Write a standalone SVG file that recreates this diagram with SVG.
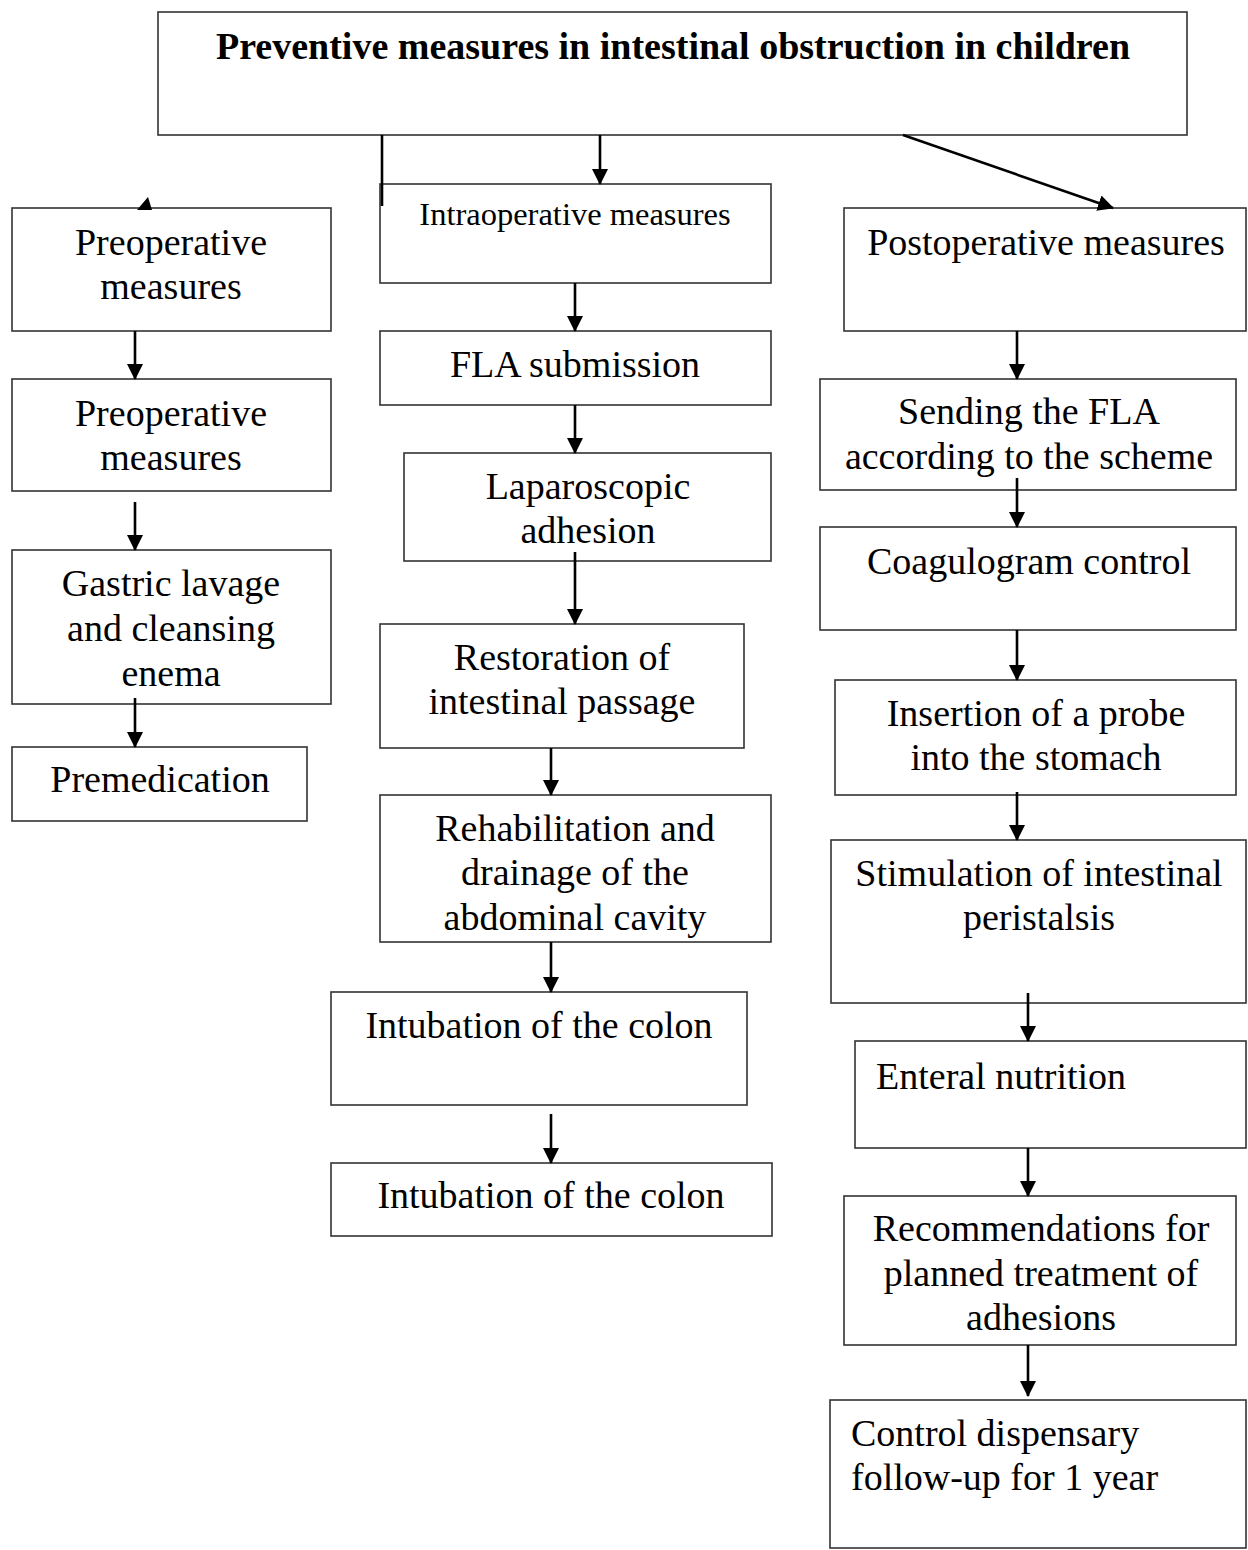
<svg xmlns="http://www.w3.org/2000/svg" width="1248" height="1550" viewBox="0 0 1248 1550">
<style>
.box{fill:#fff;stroke:#333;stroke-width:1.6}
.t{font-family:"Liberation Serif","Times New Roman",serif;font-size:38px;fill:#000;text-anchor:middle}
.l{text-anchor:start}
.title{font-family:"Liberation Serif","Times New Roman",serif;font-size:38px;font-weight:bold;fill:#000;text-anchor:middle}
.small{font-size:32.5px}
.c{stroke:#000;stroke-width:2.6;fill:none}
</style>
<defs>
<marker id="ah" markerUnits="userSpaceOnUse" markerWidth="16" markerHeight="18" refX="15" refY="8" orient="auto">
<path d="M0,0 L16,8 L0,16 Z" fill="#000"/>
</marker>
</defs>
<rect width="1248" height="1550" fill="#fff"/>
<g id="title"><rect class="box" x="158" y="12" width="1029" height="123"/><text class="title" x="673" y="59">Preventive measures in intestinal obstruction in children</text></g>
<g id="preop1"><rect class="box" x="12" y="208" width="319" height="123"/><text class="t" x="171" y="255">Preoperative</text><text class="t" x="171" y="299">measures</text></g>
<g id="preop2"><rect class="box" x="12" y="379" width="319" height="112"/><text class="t" x="171" y="426">Preoperative</text><text class="t" x="171" y="470">measures</text></g>
<g id="gastric"><rect class="box" x="12" y="550" width="319" height="154"/><text class="t" x="171" y="596">Gastric lavage</text><text class="t" x="171" y="641">and cleansing</text><text class="t" x="171" y="686">enema</text></g>
<g id="premed"><rect class="box" x="12" y="747" width="295" height="74"/><text class="t" x="160" y="792">Premedication</text></g>
<g id="intraop"><rect class="box" x="380" y="184" width="391" height="99"/><text class="t small" x="575" y="225">Intraoperative measures</text></g>
<g id="fla"><rect class="box" x="380" y="331" width="391" height="74"/><text class="t" x="575" y="377">FLA submission</text></g>
<g id="lapa"><rect class="box" x="404" y="453" width="367" height="108"/><text class="t" x="588" y="499">Laparoscopic</text><text class="t" x="588" y="543">adhesion</text></g>
<g id="restore"><rect class="box" x="380" y="624" width="364" height="124"/><text class="t" x="562" y="670">Restoration of</text><text class="t" x="562" y="714">intestinal passage</text></g>
<g id="rehab"><rect class="box" x="380" y="795" width="391" height="147"/><text class="t" x="575" y="841">Rehabilitation and</text><text class="t" x="575" y="885">drainage of the</text><text class="t" x="575" y="930">abdominal cavity</text></g>
<g id="intub1"><rect class="box" x="331" y="992" width="416" height="113"/><text class="t" x="539" y="1038">Intubation of the colon</text></g>
<g id="intub2"><rect class="box" x="331" y="1163" width="441" height="73"/><text class="t" x="551" y="1208">Intubation of the colon</text></g>
<g id="postop"><rect class="box" x="844" y="208" width="402" height="123"/><text class="t" x="1046" y="255">Postoperative measures</text></g>
<g id="sending"><rect class="box" x="820" y="379" width="416" height="111"/><text class="t" x="1029" y="424">Sending the FLA</text><text class="t" x="1029" y="469">according to the scheme</text></g>
<g id="coag"><rect class="box" x="820" y="527" width="416" height="103"/><text class="t" x="1029" y="574">Coagulogram control</text></g>
<g id="probe"><rect class="box" x="835" y="680" width="401" height="115"/><text class="t" x="1036" y="726">Insertion of a probe</text><text class="t" x="1036" y="770">into the stomach</text></g>
<g id="stim"><rect class="box" x="831" y="840" width="415" height="163"/><text class="t" x="1039" y="886">Stimulation of intestinal</text><text class="t" x="1039" y="930">peristalsis</text></g>
<g id="enteral"><rect class="box" x="855" y="1041" width="391" height="107"/><text class="t l" x="876" y="1089">Enteral nutrition</text></g>
<g id="recom"><rect class="box" x="844" y="1196" width="392" height="149"/><text class="t" x="1041" y="1241">Recommendations for</text><text class="t" x="1041" y="1286">planned treatment of</text><text class="t" x="1041" y="1330">adhesions</text></g>
<g id="control"><rect class="box" x="830" y="1400" width="416" height="148"/><text class="t l" x="851" y="1446">Control dispensary</text><text class="t l" x="851" y="1490">follow-up for 1 year</text></g>
<g id="connectors">
<line class="c" x1="382" y1="135" x2="382" y2="206"/>
<path d="M137,210 L152,210 L148,197 Z" fill="#000"/>
<line class="c" x1="600" y1="135" x2="600" y2="184" marker-end="url(#ah)"/>
<line class="c" x1="903" y1="135" x2="1113" y2="208" marker-end="url(#ah)"/>
<line class="c" x1="135" y1="331" x2="135" y2="379" marker-end="url(#ah)"/>
<line class="c" x1="135" y1="502" x2="135" y2="550" marker-end="url(#ah)"/>
<line class="c" x1="135" y1="698" x2="135" y2="747" marker-end="url(#ah)"/>
<line class="c" x1="575" y1="283" x2="575" y2="331" marker-end="url(#ah)"/>
<line class="c" x1="575" y1="405" x2="575" y2="453" marker-end="url(#ah)"/>
<line class="c" x1="575" y1="552" x2="575" y2="624" marker-end="url(#ah)"/>
<line class="c" x1="551" y1="748" x2="551" y2="795" marker-end="url(#ah)"/>
<line class="c" x1="551" y1="942" x2="551" y2="992" marker-end="url(#ah)"/>
<line class="c" x1="551" y1="1114" x2="551" y2="1163" marker-end="url(#ah)"/>
<line class="c" x1="1017" y1="331" x2="1017" y2="379" marker-end="url(#ah)"/>
<line class="c" x1="1017" y1="478" x2="1017" y2="527" marker-end="url(#ah)"/>
<line class="c" x1="1017" y1="630" x2="1017" y2="680" marker-end="url(#ah)"/>
<line class="c" x1="1017" y1="792" x2="1017" y2="840" marker-end="url(#ah)"/>
<line class="c" x1="1028" y1="993" x2="1028" y2="1041" marker-end="url(#ah)"/>
<line class="c" x1="1028" y1="1148" x2="1028" y2="1196" marker-end="url(#ah)"/>
<line class="c" x1="1028" y1="1345" x2="1028" y2="1396" marker-end="url(#ah)"/>
</g>
</svg>
